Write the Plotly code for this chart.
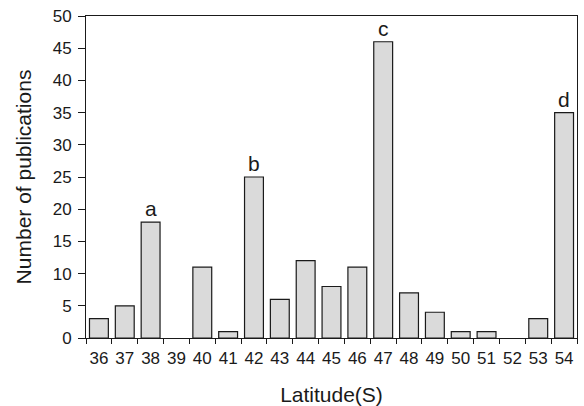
import plotly.graph_objects as go

latitudes = [str(v) for v in range(36, 55)]
publications = [3, 5, 18, 0, 11, 1, 25, 6, 12, 8, 11, 46, 7, 4, 1, 1, 0, 3, 35]
label_cats = ["38", "42", "47", "54"]
label_vals = [18, 25, 46, 35]
label_text = ["a", "b", "c", "d"]

FONT = "Liberation Sans, Arial, sans-serif"
INK = "#1a1a1a"

fig = go.Figure()
fig.add_trace(go.Bar(
    x=latitudes, y=publications,
    marker=dict(color="#dadada",
                line=dict(color=INK, width=[1.2 if v > 0 else 0 for v in publications])),
    showlegend=False,
))

for c, v, t in zip(label_cats, label_vals, label_text):
    fig.add_annotation(x=latitudes.index(c), y=v, xref="x", yref="y", text=t,
                       showarrow=False, yanchor="bottom", yshift=0,
                       font=dict(size=21, color=INK, family=FONT))

fig.update_layout(
    width=584, height=406,
    margin=dict(l=86, r=7, t=16, b=68),
    paper_bgcolor="white", plot_bgcolor="white",
    bargap=0.27,
    font=dict(family=FONT, color=INK),
    xaxis=dict(
        type="category", range=[-0.5, 18.5], automargin=False,
        tickson="boundaries", ticks="outside", ticklen=5, tickwidth=1, tickcolor=INK,
        tickangle=0, ticklabelstandoff=5,
        showline=True, linecolor=INK, linewidth=1, mirror=True,
        showgrid=False, zeroline=False,
        tickfont=dict(size=17),
        title=dict(text="Latitude(S)", font=dict(size=21), standoff=19),
    ),
    yaxis=dict(
        range=[0, 50], tick0=0, dtick=5, automargin=False,
        ticks="outside", ticklen=7, tickwidth=1, tickcolor=INK,
        ticklabelstandoff=3,
        showline=True, linecolor=INK, linewidth=1, mirror=True,
        showgrid=False, zeroline=False,
        tickfont=dict(size=17),
        title=dict(text="Number of publications", font=dict(size=21), standoff=15),
    ),
)

fig.write_html("out.html", config={"displayModeBar": False},
               post_script="document.body.style.margin='0';document.body.style.padding='0';")
